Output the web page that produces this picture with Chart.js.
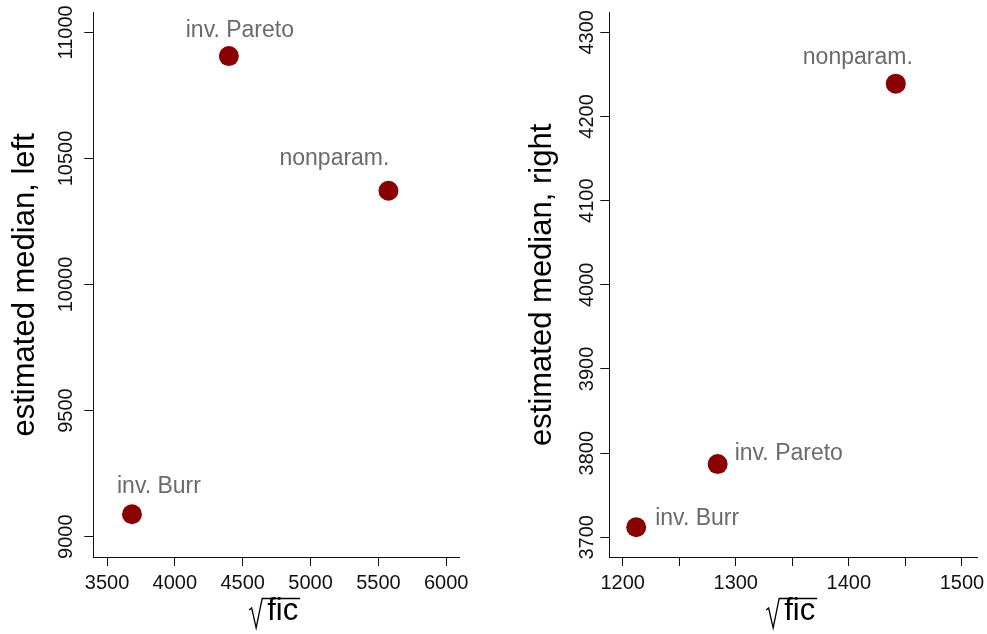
<!DOCTYPE html>
<html>
<head>
<meta charset="utf-8">
<script src="https://cdn.jsdelivr.net/npm/chart.js@4.4.1/dist/chart.umd.min.js"></script>
<style>
  html, body { margin: 0; padding: 0; background: #fff; }
  #wrap { position: relative; width: 987px; height: 634px; }
  canvas { position: absolute; top: 0; }
  #c1 { left: 0; }
  #c2 { left: 494px; }
</style>
</head>
<body>
<div id="wrap">
  <canvas id="c1" width="494" height="634"></canvas>
  <canvas id="c2" width="493" height="634"></canvas>
</div>
<script>
// Estimation methods (one point per method in each panel)
const methods = ['inv. Burr', 'inv. Pareto', 'nonparam.'];

// Left tail: sqrt(fic) vs estimated median
const sqrtFicLeft = [3684, 4398, 5574];
const medianLeft  = [9089, 10906, 10372];

// Right tail: sqrt(fic) vs estimated median
const sqrtFicRight = [1212, 1284, 1441.5];
const medianRight  = [3712, 3787, 4239];

// Axis ticks
const xTicksLeft  = [3500, 4000, 4500, 5000, 5500, 6000];
const yTicksLeft  = [9000, 9500, 10000, 10500, 11000];
const xTicksRight = [1200, 1250, 1300, 1350, 1400, 1450, 1500];
const xLabelsRight = [1200, 1300, 1400, 1500];
const yTicksRight = [3700, 3800, 3900, 4000, 4100, 4200, 4300];

const FONT = 'Liberation Sans, Arial, Helvetica, sans-serif';
const POINT_COLOR = '#8b0000';
const LABEL_COLOR = '#6b6b6b';
const AXIS_COLOR = '#111';

// Text labels next to each point: offset from the point, alignment
const labelPlacementLeft = [
  { dx: 27, dy: -21.5, align: 'center' },
  { dx: 11, dy: -19.5, align: 'center' },
  { dx: -54, dy: -25.5, align: 'center' }
];
const labelPlacementRight = [
  { dx: 19, dy: -2, align: 'left' },
  { dx: 17, dy: -4.5, align: 'left' },
  { dx: -38, dy: -20, align: 'center' }
];

const pointLabels = {
  id: 'pointLabels',
  afterDatasetsDraw(chart, args, opts) {
    const ctx = chart.ctx;
    const meta = chart.getDatasetMeta(0);
    ctx.save();
    ctx.font = '23px ' + FONT;
    ctx.fillStyle = LABEL_COLOR;
    ctx.textBaseline = 'alphabetic';
    meta.data.forEach((pt, i) => {
      const p = opts.placement[i];
      ctx.textAlign = p.align;
      ctx.fillText(methods[i], pt.x + p.dx, pt.y + p.dy);
    });
    ctx.restore();
  }
};

// x-axis title: square-root sign with an overbar spanning "fic"
const sqrtTitle = {
  id: 'sqrtTitle',
  afterDraw(chart) {
    const ctx = chart.ctx;
    const a = chart.chartArea;
    const cx = (a.left + a.right) / 2;
    const base = 620;
    ctx.save();
    ctx.fillStyle = '#000';
    ctx.font = '31px ' + FONT;
    ctx.textAlign = 'left';
    ctx.textBaseline = 'alphabetic';
    ctx.fillText('fic', cx - 9, base);
    ctx.strokeStyle = '#000';
    ctx.lineWidth = 1.3;
    ctx.lineJoin = 'miter';
    ctx.beginPath();
    ctx.moveTo(cx - 27, base - 10);
    ctx.lineTo(cx - 24.5, base - 12);
    ctx.lineTo(cx - 20, base + 8);
    ctx.lineTo(cx - 14, base - 21.5);
    ctx.lineTo(cx + 24, base - 21.5);
    ctx.stroke();
    ctx.restore();
  }
};

function makeChart(id, xs, ys, cfg) {
  const pts = xs.map((x, i) => ({ x: x, y: ys[i] }));
  return new Chart(document.getElementById(id), {
    type: 'scatter',
    data: {
      datasets: [{
        data: pts,
        backgroundColor: POINT_COLOR,
        borderColor: POINT_COLOR,
        borderWidth: 0,
        pointRadius: 10,
        pointHoverRadius: 10
      }]
    },
    plugins: [pointLabels, sqrtTitle],
    options: {
      responsive: false,
      animation: false,
      events: [],
      layout: { padding: { left: 0, right: cfg.padRight, top: 12.7, bottom: 0 } },
      plugins: {
        legend: { display: false },
        tooltip: { enabled: false },
        pointLabels: { placement: cfg.placement }
      },
      scales: {
        x: {
          type: 'linear',
          min: cfg.xMin, max: cfg.xMax,
          afterBuildTicks: s => { s.ticks = cfg.xTicks.map(v => ({ value: v })); },
          afterFit: s => { s.height = 77; s.paddingLeft = 0; s.paddingRight = 0; },
          grid: { display: true, drawOnChartArea: false, drawTicks: true, tickLength: 9, color: AXIS_COLOR, lineWidth: 1 },
          border: { display: true, color: AXIS_COLOR, width: 1 },
          ticks: {
            color: '#111',
            font: { family: FONT, size: 20 },
            padding: 5.5,
            maxRotation: 0,
            autoSkip: false,
            callback: v => (cfg.xLabels.includes(v) ? String(v) : '')
          },
          title: { display: false }
        },
        y: {
          type: 'linear',
          min: cfg.yMin, max: cfg.yMax,
          afterBuildTicks: s => { s.ticks = cfg.yTicks.map(v => ({ value: v })); },
          afterFit: s => { s.width = cfg.yWidth; s.paddingTop = 0; s.paddingBottom = 0; },
          grid: { display: true, drawOnChartArea: false, drawTicks: true, tickLength: 9, color: AXIS_COLOR, lineWidth: 1 },
          border: { display: true, color: AXIS_COLOR, width: 1 },
          ticks: {
            color: '#111',
            font: { family: FONT, size: 20 },
            minRotation: 90,
            maxRotation: 90,
            crossAlign: 'center',
            padding: cfg.yTickPad,
            autoSkip: false,
            callback: v => String(v)
          },
          title: {
            display: true,
            text: cfg.yTitle,
            color: '#000',
            font: { family: FONT, size: 31 },
            padding: { top: cfg.yTitlePad, bottom: 0 }
          }
        }
      }
    }
  });
}

makeChart('c1', sqrtFicLeft, medianLeft, {
  xMin: 3399, xMax: 6094, yMin: 8919.5, yMax: 11078,
  xTicks: xTicksLeft, xLabels: xTicksLeft, yTicks: yTicksLeft,
  yWidth: 93.3, padRight: 35, yTickPad: -9.5, yTitlePad: 7,
  yTitle: 'estimated median, left',
  placement: labelPlacementLeft
});

makeChart('c2', sqrtFicRight, medianRight, {
  xMin: 1188.2, xMax: 1513.3, yMin: 3676.6, yMax: 4323.3,
  xTicks: xTicksRight, xLabels: xLabelsRight, yTicks: yTicksRight,
  yWidth: 115.3, padRight: 10, yTickPad: -9.7, yTitlePad: 29.5,
  yTitle: 'estimated median, right',
  placement: labelPlacementRight
});
</script>
</body>
</html>
